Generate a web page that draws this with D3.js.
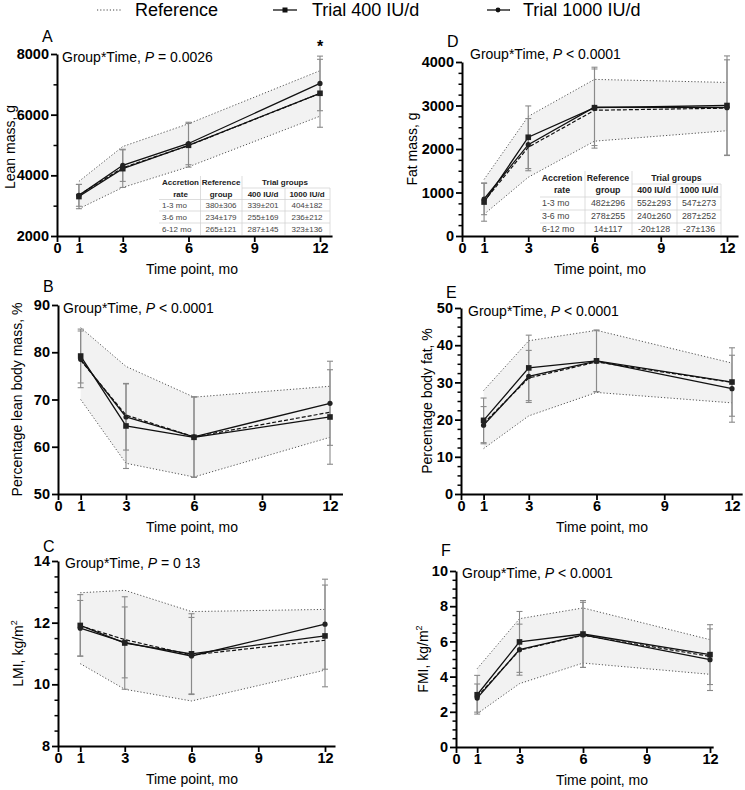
<!DOCTYPE html>
<html><head><meta charset="utf-8">
<script src="https://cdn.jsdelivr.net/npm/d3@7"></script>
<style>
body{margin:0;background:#fff}
svg{display:block}
text{font-family:"Liberation Sans",Arial,Helvetica,sans-serif}
</style>
</head><body>
<svg id="chart" width="745" height="790"></svg>
<script>
// ---------- DATA ----------
const months = [1, 3, 6, 12];
const xTickValues = [0, 1, 3, 6, 9, 12];

// A: Lean mass, g
const leanRefMean   = [3350, 4250, 4980, 6700];
const leanRefUpper  = [3800, 4950, 5700, 7450];
const leanRefLower  = [2900, 3600, 4280, 5950];
const lean400Mean   = [3300, 4220, 4990, 6705];
const lean400SD     = [400, 620, 720, 1120];
const lean1000Mean  = [3340, 4330, 5050, 7030];
const lean1000SD    = [360, 530, 700, 900];

// D: Fat mass, g
const fatRefMean    = [800, 2040, 2890, 2940];
const fatRefUpper   = [1300, 2750, 3600, 3530];
const fatRefLower   = [500, 1350, 2180, 2420];
const fat400Mean    = [780, 2270, 2950, 3000];
const fat400SD      = [440, 720, 930, 1140];
const fat1000Mean   = [850, 2100, 2960, 2950];
const fat1000SD     = [360, 600, 880, 1100];

// B: Percentage lean body mass, %
const pctLeanRefMean  = [78.3, 66.7, 62.1, 67.3];
const pctLeanRefUpper = [85.2, 77.0, 70.5, 72.8];
const pctLeanRefLower = [70.0, 56.5, 53.6, 62.0];
const pctLean400Mean  = [79.2, 64.4, 62.0, 66.3];
const pctLean400SD    = [5.7, 9.0, 8.5, 10.0];
const pctLean1000Mean = [78.5, 66.3, 62.1, 69.2];
const pctLean1000SD   = [6.0, 7.0, 8.5, 8.9];

// E: Percentage body fat, %
const pctFatRefMean   = [19.0, 31.2, 35.5, 30.0];
const pctFatRefUpper  = [27.8, 41.2, 44.0, 35.2];
const pctFatRefLower  = [12.2, 21.0, 27.3, 24.5];
const pctFat400Mean   = [19.8, 33.9, 35.8, 30.1];
const pctFat400SD     = [6.0, 8.8, 8.3, 9.2];
const pctFat1000Mean  = [18.5, 31.6, 35.7, 28.3];
const pctFat1000SD    = [5.0, 7.0, 8.2, 9.0];

// C: LMI, kg/m2
const lmiRefMean   = [11.90, 11.45, 10.95, 11.43];
const lmiRefUpper  = [12.97, 13.05, 12.36, 12.43];
const lmiRefLower  = [10.67, 9.84, 9.46, 10.46];
const lmi400Mean   = [11.91, 11.34, 10.99, 11.57];
const lmi400SD     = [1.00, 1.50, 1.30, 1.65];
const lmi1000Mean  = [11.82, 11.36, 10.92, 11.95];
const lmi1000SD    = [0.90, 1.15, 1.25, 1.46];

// F: FMI, kg/m2
const fmiRefMean   = [2.85, 5.50, 6.35, 5.15];
const fmiRefUpper  = [4.45, 7.29, 7.90, 6.10];
const fmiRefLower  = [1.89, 3.60, 4.77, 4.13];
const fmi400Mean   = [2.97, 5.97, 6.42, 5.25];
const fmi400SD     = [1.10, 1.73, 1.90, 1.70];
const fmi1000Mean  = [2.78, 5.53, 6.37, 4.96];
const fmi1000SD    = [0.80, 1.45, 1.85, 1.75];

// Tables (accretion rates)
const tableHeader1 = ["Accretion", "Reference", "Trial groups"];
const tableHeader2 = ["rate", "group", "400 IU/d", "1000 IU/d"];
const leanTableRows = [
  ["1-3 mo", "380±306", "339±201", "404±182"],
  ["3-6 mo", "234±179", "255±169", "236±212"],
  ["6-12 mo", "265±121", "287±145", "323±136"]
];
const fatTableRows = [
  ["1-3 mo", "482±296", "552±293", "547±273"],
  ["3-6 mo", "278±255", "240±260", "287±252"],
  ["6-12 mo", "14±117", "-20±128", "-27±136"]
];

const legendLabels = ["Reference", "Trial 400 IU/d", "Trial 1000 IU/d"];

// ---------- LAYOUT ----------
const panels = [
  {letter:"A", x0:57, x12:320, xEnd:12.55, yBot:236, yTop:54, yDom:[2000,8000], major:2000, minor:1000,
   yTitle:["Lean mass, g"], yTitleX:15, yTitleY:147, xTitleX:192, stat:["Group*Time, ","P"," = 0.0026"], statX:62, statY:62, letterY:42,
   ref:[leanRefMean, leanRefUpper, leanRefLower], t400:[lean400Mean, lean400SD], t1000:[lean1000Mean, lean1000SD],
   table:leanTableRows, star:true},
  {letter:"D", x0:462, x12:727, xEnd:12.5, yBot:236, yTop:62, yDom:[0,4000], major:1000, minor:250,
   yTitle:["Fat mass, g"], yTitleX:417, xTitleX:600, stat:["Group*Time, ","P"," < 0.0001"], statX:470, statY:59, letterY:47,
   ref:[fatRefMean, fatRefUpper, fatRefLower], t400:[fat400Mean, fat400SD], t1000:[fat1000Mean, fat1000SD],
   table:fatTableRows},
  {letter:"B", x0:58, x12:330, xEnd:12.55, yBot:494, yTop:305, yDom:[50,90], major:10, minor:null,
   yTitle:["Percentage lean body mass, %"], yTitleX:22, xTitleX:192, stat:["Group*Time, ","P"," < 0.0001"], statX:63, statY:313, letterY:292,
   ref:[pctLeanRefMean, pctLeanRefUpper, pctLeanRefLower], t400:[pctLean400Mean, pctLean400SD], t1000:[pctLean1000Mean, pctLean1000SD]},
  {letter:"E", x0:461, x12:732, xEnd:12.45, yBot:494, yTop:308, yDom:[0,50], major:10, minor:2.5,
   yTitle:["Percentage body fat, %"], yTitleX:432, xTitleX:602, stat:["Group*Time, ","P"," < 0.0001"], statX:468, statY:316, letterY:298,
   ref:[pctFatRefMean, pctFatRefUpper, pctFatRefLower], t400:[pctFat400Mean, pctFat400SD], t1000:[pctFat1000Mean, pctFat1000SD]},
  {letter:"C", x0:58, x12:325, xEnd:12.45, yBot:746, yTop:561, yDom:[8,14], major:2, minor:0.5,
   yTitle:["LMI, kg/m","2"], yTitleX:23, xTitleX:192, stat:["Group*Time, ","P"," = 0 13"], statX:65, statY:568, letterY:552,
   ref:[lmiRefMean, lmiRefUpper, lmiRefLower], t400:[lmi400Mean, lmi400SD], t1000:[lmi1000Mean, lmi1000SD]},
  {letter:"F", x0:456, x12:710, xEnd:12.15, yBot:747, yTop:571, yDom:[0,10], major:2, minor:0.5,
   yTitle:["FMI, kg/m","2"], yTitleX:428, xTitleX:602, stat:["Group*Time, ","P"," < 0.0001"], statX:462, statY:578, letterY:556,
   ref:[fmiRefMean, fmiRefUpper, fmiRefLower], t400:[fmi400Mean, fmi400SD], t1000:[fmi1000Mean, fmi1000SD]}
];

const svg = d3.select("#chart");
const GREY_ERR = "#8a8a8a";

panels.forEach(p => {
  const unit = (p.x12 - p.x0) / 12;
  const x = d3.scaleLinear().domain([0, p.xEnd]).range([p.x0, p.x0 + p.xEnd * unit]);
  const y = d3.scaleLinear().domain(p.yDom).range([p.yBot, p.yTop]);
  const g = svg.append("g");

  const pts = (arr) => months.map((m, i) => [m, arr[i]]);
  const line = d3.line().x(d => x(d[0])).y(d => y(d[1]));

  // reference band
  const area = d3.area().x(d => x(d[0])).y0(d => y(d[1])).y1(d => y(d[2]));
  g.append("path")
    .datum(months.map((m, i) => [m, p.ref[2][i], p.ref[1][i]]))
    .attr("d", area).attr("fill", "#f2f2f2").attr("stroke", "none");
  [p.ref[1], p.ref[2]].forEach(arr => {
    g.append("path").datum(pts(arr)).attr("d", line)
      .attr("fill", "none").attr("stroke", "#555").attr("stroke-width", 1)
      .attr("stroke-dasharray", "1.2,2");
  });

  // error bars
  [p.t400, p.t1000].forEach(([mean, sd]) => {
    months.forEach((m, i) => {
      const cx = x(m), top = y(mean[i] + sd[i]), bot = y(mean[i] - sd[i]);
      g.append("line").attr("x1", cx).attr("x2", cx).attr("y1", top).attr("y2", bot)
        .attr("stroke", GREY_ERR).attr("stroke-width", 1.1);
      [top, bot].forEach(yy => g.append("line").attr("x1", cx - 3).attr("x2", cx + 3)
        .attr("y1", yy).attr("y2", yy).attr("stroke", GREY_ERR).attr("stroke-width", 1.1));
    });
  });

  // reference mean (dashed)
  g.append("path").datum(pts(p.ref[0])).attr("d", line)
    .attr("fill", "none").attr("stroke", "#111").attr("stroke-width", 1.2)
    .attr("stroke-dasharray", "4,2");

  // trial lines
  g.append("path").datum(pts(p.t400[0])).attr("d", line)
    .attr("fill", "none").attr("stroke", "#111").attr("stroke-width", 1.3);
  g.append("path").datum(pts(p.t1000[0])).attr("d", line)
    .attr("fill", "none").attr("stroke", "#111").attr("stroke-width", 1.3);

  // markers
  g.selectAll(null).data(pts(p.t400[0])).enter().append("rect")
    .attr("x", d => x(d[0]) - 2.8).attr("y", d => y(d[1]) - 2.8)
    .attr("width", 5.6).attr("height", 5.6).attr("fill", "#222");
  g.selectAll(null).data(pts(p.t1000[0])).enter().append("circle")
    .attr("cx", d => x(d[0])).attr("cy", d => y(d[1])).attr("r", 2.6).attr("fill", "#222");

  // axes
  const majors = d3.range(p.yDom[0], p.yDom[1] + 1e-9, p.major);
  const yAxis = d3.axisLeft(y).tickValues(majors).tickSize(6).tickSizeOuter(0).tickPadding(2)
    .tickFormat(d3.format("d"));
  const ya = g.append("g").attr("transform", `translate(${p.x0},0)`).call(yAxis);
  if (p.minor) {
    const minors = d3.range(p.yDom[0], p.yDom[1] + 1e-9, p.minor)
      .filter(v => majors.every(m => Math.abs(m - v) > 1e-6));
    const ym = g.append("g").attr("transform", `translate(${p.x0},0)`)
      .call(d3.axisLeft(y).tickValues(minors).tickSize(3.5).tickSizeOuter(0).tickFormat(""));
    ym.select(".domain").remove();
    ym.selectAll("line").attr("stroke-width", 1.5);
  }
  const xAxis = d3.axisBottom(x).tickValues(xTickValues).tickSize(6).tickSizeOuter(0).tickPadding(1);
  const xa = g.append("g").attr("transform", `translate(0,${p.yBot})`).call(xAxis);
  [ya, xa].forEach(a => {
    a.select(".domain").attr("stroke-width", 2).attr("stroke", "#000");
    a.selectAll(".tick line").attr("stroke-width", 1.8).attr("stroke", "#000");
    a.selectAll("text").attr("font-size", 14.5).attr("font-weight", "bold")
      .attr("font-family", '"Liberation Sans",Arial,sans-serif').attr("fill", "#000");
  });

  // axis titles
  g.append("text").attr("x", p.xTitleX).attr("y", p.yBot + 38)
    .attr("text-anchor", "middle").attr("font-size", 14).text("Time point, mo");
  const yCenter = p.yTitleY || (p.yBot + p.yTop) / 2;
  const yt = g.append("text")
    .attr("transform", `translate(${p.yTitleX},${yCenter}) rotate(-90)`)
    .attr("text-anchor", "middle").attr("font-size", 14);
  yt.append("tspan").text(p.yTitle[0]);
  if (p.yTitle[1]) yt.append("tspan").attr("font-size", 9).attr("dy", -6).text(p.yTitle[1]);

  // panel letter
  g.append("text").attr("x", p.x0 - 15).attr("y", p.letterY).attr("font-size", 16).text(p.letter);

  // stat text
  const st = g.append("text").attr("x", p.statX).attr("y", p.statY).attr("font-size", 14);
  st.append("tspan").text(p.stat[0]);
  st.append("tspan").attr("font-style", "italic").text(p.stat[1]);
  st.append("tspan").text(p.stat[2]);

  if (p.star) {
    g.append("text").attr("x", x(12)).attr("y", y(p.t1000[0][3] + p.t1000[1][3]) - 4)
      .attr("text-anchor", "middle").attr("font-size", 16).attr("font-weight", "bold").text("*");
  }

  // table
  if (p.table) {
    const isLean = p.letter === "A";
    const T = isLean
      ? {left:159, right:330, v1:200.5, v2:242, v3:285, c1:180.5, c2:221, c3:263, c4:307, d1:162,
         rows:[185, 196.5, 208, 220, 232], h1:188, hLines:[199.5, 211, 223], top:176, fs:8}
      : {left:540, right:721, v1:585, v2:632, v3:677, c1:562, c2:608, c3:654, c4:699, d1:542,
         rows:[180.5, 192.5, 206, 218.5, 232], h1:184, hLines:[197, 210, 223], top:171, fs:8.8};
    const tg = g.append("g");
    const lc = "#cfcfcf";
    tg.append("line").attr("x1", T.v2).attr("x2", T.right).attr("y1", T.h1).attr("y2", T.h1).attr("stroke", lc).attr("stroke-width", 0.7);
    T.hLines.forEach(hy => tg.append("line").attr("x1", T.left).attr("x2", T.right).attr("y1", hy).attr("y2", hy)
      .attr("stroke", lc).attr("stroke-width", 0.7));
    [T.v1, T.v2].forEach(vx => tg.append("line").attr("x1", vx).attr("x2", vx).attr("y1", T.top).attr("y2", p.yBot - 1)
      .attr("stroke", lc).attr("stroke-width", 0.7));
    [T.v3, T.right].forEach(vx => tg.append("line").attr("x1", vx).attr("x2", vx).attr("y1", T.h1).attr("y2", p.yBot - 1)
      .attr("stroke", lc).attr("stroke-width", 0.7));
    const tt = (tx, ty, s, anchor, bold) => tg.append("text").attr("x", tx).attr("y", ty)
      .attr("text-anchor", anchor).attr("font-size", T.fs)
      .attr("font-weight", bold ? "bold" : "normal").attr("fill", bold ? "#222" : "#444").text(s);
    tt(T.c1, T.rows[0], tableHeader1[0], "middle", true);
    tt(T.c2, T.rows[0], tableHeader1[1], "middle", true);
    tt((T.c3 + T.c4) / 2, T.rows[0], tableHeader1[2], "middle", true);
    tt(T.c1, T.rows[1], tableHeader2[0], "middle", true);
    tt(T.c2, T.rows[1], tableHeader2[1], "middle", true);
    tt(T.c3, T.rows[1], tableHeader2[2], "middle", true);
    tt(T.c4, T.rows[1], tableHeader2[3], "middle", true);
    p.table.forEach((r, i) => {
      tt(T.d1, T.rows[i + 2], r[0], "start", false);
      tt(T.c2, T.rows[i + 2], r[1], "middle", false);
      tt(T.c3, T.rows[i + 2], r[2], "middle", false);
      tt(T.c4, T.rows[i + 2], r[3], "middle", false);
    });
  }
});

// ---------- LEGEND ----------
const lg = svg.append("g");
lg.append("line").attr("x1", 97).attr("x2", 121).attr("y1", 10).attr("y2", 10)
  .attr("stroke", "#444").attr("stroke-width", 1).attr("stroke-dasharray", "1.2,2");
lg.append("text").attr("x", 135).attr("y", 16).attr("font-size", 18).text(legendLabels[0]);
lg.append("line").attr("x1", 273).attr("x2", 297).attr("y1", 10).attr("y2", 10).attr("stroke", "#111").attr("stroke-width", 1.3);
lg.append("rect").attr("x", 285 - 2.5).attr("y", 10 - 2.5).attr("width", 5).attr("height", 5).attr("fill", "#111");
lg.append("text").attr("x", 312).attr("y", 16).attr("font-size", 18).text(legendLabels[1]);
lg.append("line").attr("x1", 487).attr("x2", 510).attr("y1", 10).attr("y2", 10).attr("stroke", "#111").attr("stroke-width", 1.3);
lg.append("circle").attr("cx", 498).attr("cy", 10).attr("r", 2.4).attr("fill", "#111");
lg.append("text").attr("x", 523).attr("y", 16).attr("font-size", 18).text(legendLabels[2]);
</script>
</body></html>
